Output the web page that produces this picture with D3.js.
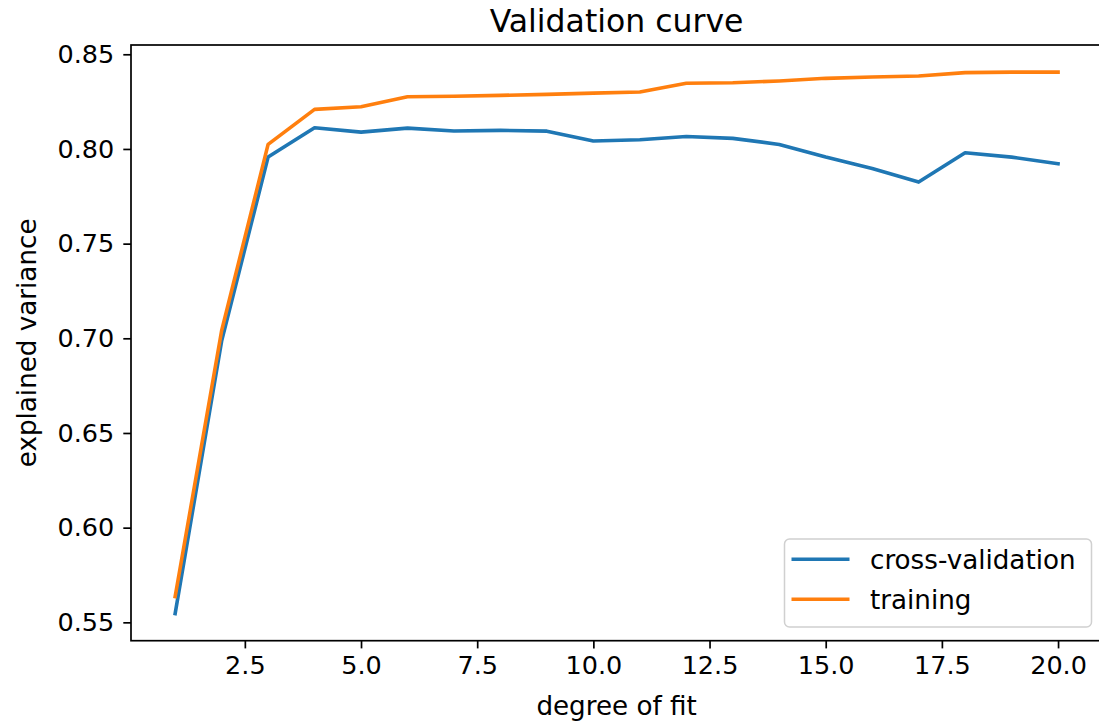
<!DOCTYPE html>
<html>
<head>
<meta charset="utf-8">
<script src="https://cdn.jsdelivr.net/npm/d3@7"></script>
<style>
  html, body { margin: 0; padding: 0; background: #fff; }
  svg text { font-family: "DejaVu Sans", sans-serif; fill: #000; }
</style>
</head>
<body>
<div id="chart"></div>
<script>
// data
var degrees = [1, 2, 3, 4, 5, 6, 7, 8, 9, 10, 11, 12, 13, 14, 15, 16, 17, 18, 19, 20];
var cvScores = [0.5546, 0.6985, 0.7957, 0.8112, 0.8089, 0.8110, 0.8095, 0.8098, 0.8094, 0.8042,
                0.8049, 0.8066, 0.8056, 0.8024, 0.7957, 0.7897, 0.7825, 0.7980, 0.7957, 0.7922];
var trainScores = [0.5636, 0.7040, 0.8024, 0.8209, 0.8223, 0.8276, 0.8278, 0.8283, 0.8288, 0.8295,
                   0.8301, 0.8347, 0.8350, 0.8359, 0.8373, 0.8380, 0.8385, 0.8403, 0.8406, 0.8406];
var xTicks = [2.5, 5.0, 7.5, 10.0, 12.5, 15.0, 17.5, 20.0];
var yTicks = [0.55, 0.60, 0.65, 0.70, 0.75, 0.80, 0.85];
var seriesNames = ["cross-validation", "training"];
var seriesColors = ["#1f77b4", "#ff7f0e"];

function drawChart(sel) {
  //layout
  var W = 1099, H = 722;
  var area = { l: 131, r: 1102.2, t: 45, b: 640.7 },
      font = { tick: 25.5, label: 26.2, title: 31.5, legend: 26.2 },
      tickLen = 7.7, line_w = 3.6;

  var svg = d3.select(sel).append("svg").attr("width", W).attr("height", H);

  // matplotlib-style 5% margins
  var xr = d3.extent(degrees), xpad = (xr[1] - xr[0]) * 0.05;
  var all = cvScores.concat(trainScores), yr = d3.extent(all), ypad = (yr[1] - yr[0]) * 0.05;
  var x = d3.scaleLinear().domain([xr[0] - xpad, xr[1] + xpad]).range([area.l, area.r]);
  var y = d3.scaleLinear().domain([yr[0] - ypad, yr[1] + ypad]).range([area.b, area.t]);

  // lines
  var series = [cvScores, trainScores];
  var line = d3.line().x(function(d, i) { return x(degrees[i]); }).y(function(d) { return y(d); });
  var clip = svg.append("clipPath").attr("id", "plot-clip").append("rect")
                .attr("x", area.l).attr("y", area.t).attr("width", area.r - area.l).attr("height", area.b - area.t);
  var plot = svg.append("g").attr("clip-path", "url(#plot-clip)");
  for (var s = 0; s < series.length; s++) {
    plot.append("path").attr("d", line(series[s])).attr("fill", "none")
        .attr("stroke", seriesColors[s]).attr("stroke-width", line_w)
        .attr("stroke-linejoin", "round").attr("stroke-linecap", "square");
  }

  // x axis
  var xAxis = d3.axisBottom(x).tickValues(xTicks).tickSize(tickLen).tickPadding(7.2).tickFormat(d3.format(".1f"));
  var gx = svg.append("g").attr("transform", "translate(0," + area.b + ")").call(xAxis);
  gx.select(".domain").remove();
  gx.selectAll(".tick line").attr("stroke", "#000").attr("stroke-width", 1.7);
  gx.selectAll(".tick text").attr("font-size", font.tick).attr("font-family", "DejaVu Sans").attr("fill", "#000");

  // y axis
  var yAxis = d3.axisLeft(y).tickValues(yTicks).tickSize(tickLen).tickPadding(9).tickFormat(d3.format(".2f"));
  var gy = svg.append("g").attr("transform", "translate(" + area.l + ",0)").call(yAxis);
  gy.select(".domain").remove();
  gy.selectAll(".tick line").attr("stroke", "#000").attr("stroke-width", 1.7);
  gy.selectAll(".tick text").attr("font-size", font.tick).attr("font-family", "DejaVu Sans").attr("fill", "#000");

  // spines
  svg.append("rect").attr("x", area.l).attr("y", area.t).attr("width", area.r - area.l).attr("height", area.b - area.t)
     .attr("fill", "none").attr("stroke", "#000").attr("stroke-width", 1.7);

  // title + labels
  var cx = (area.l + area.r) / 2;
  svg.append("text").attr("x", cx).attr("y", 31.5).attr("text-anchor", "middle")
     .attr("font-size", font.title).text("Validation curve");
  svg.append("text").attr("x", cx).attr("y", 715).attr("text-anchor", "middle")
     .attr("font-size", font.label).text("degree of fit");
  svg.append("text").attr("transform", "translate(36," + ((area.t + area.b) / 2) + ") rotate(-90)")
     .attr("text-anchor", "middle").attr("font-size", font.label).text("explained variance");

  // legend
  var leg = svg.append("g").attr("transform", "translate(784.5,539)");
  leg.append("rect").attr("width", 307).attr("height", 88).attr("rx", 5).attr("ry", 5)
     .attr("fill", "#fff").attr("fill-opacity", 0.8).attr("stroke", "#d0d0d0").attr("stroke-width", 1.5);
  for (var k = 0; k < seriesNames.length; k++) {
    var ly = 20.3 + k * 40;
    leg.append("line").attr("x1", 7).attr("x2", 65).attr("y1", ly).attr("y2", ly)
       .attr("stroke", seriesColors[k]).attr("stroke-width", line_w);
    leg.append("text").attr("x", 85.5).attr("y", ly + 9.3).attr("font-size", font.legend).text(seriesNames[k]);
  }
}

drawChart("#chart");
</script>
</body>
</html>
